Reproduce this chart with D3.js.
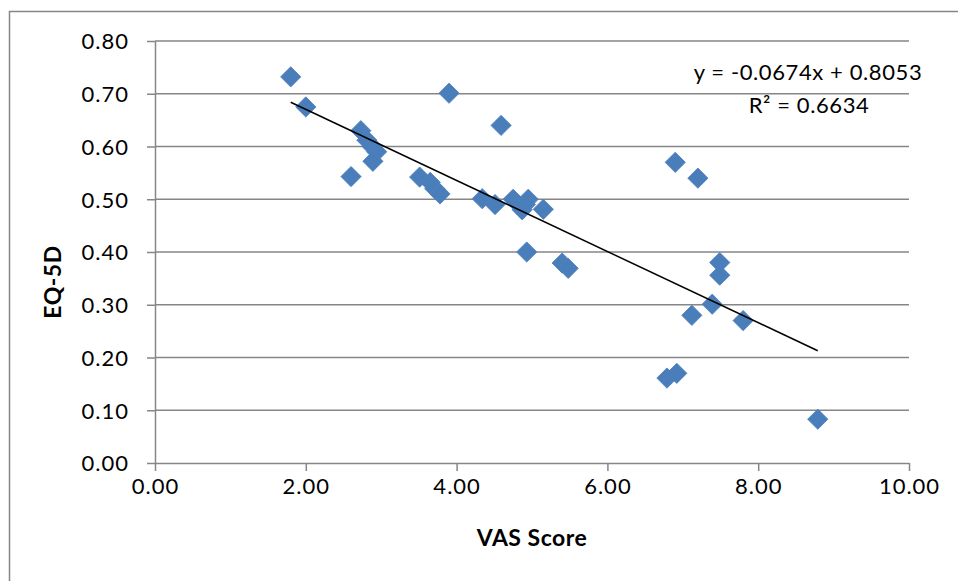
<!DOCTYPE html>
<html>
<head>
<meta charset="utf-8">
<script src="https://cdn.jsdelivr.net/npm/d3@7"></script>
<style>
  html, body { margin: 0; padding: 0; background: #fff; }
  svg { display: block; }
  text { font-family: Lato, "Open Sans", sans-serif; fill: #000; }
</style>
</head>
<body>
<svg id="chart" width="958" height="581"></svg>
<script>
// ---- data ----
const vasScore = [1.80, 2.00, 2.60, 2.73, 2.81, 2.88, 2.94, 2.89, 3.90, 4.59,
                  3.51, 3.65, 3.71, 3.78, 4.34, 4.51, 4.75, 4.87, 4.91, 4.95,
                  5.15, 4.93, 5.40, 5.48, 6.90, 7.20, 7.49, 7.49, 7.39, 7.12,
                  7.80, 6.79, 6.92, 8.79];
const eq5d     = [0.732, 0.675, 0.543, 0.630, 0.612, 0.600, 0.590, 0.572, 0.701, 0.640,
                  0.542, 0.532, 0.520, 0.510, 0.501, 0.490, 0.500, 0.480, 0.490, 0.500,
                  0.481, 0.400, 0.379, 0.369, 0.570, 0.540, 0.380, 0.356, 0.301, 0.280,
                  0.270, 0.161, 0.170, 0.083];
const xTicks = [0, 2, 4, 6, 8, 10];
const yTicks = [0, 0.1, 0.2, 0.3, 0.4, 0.5, 0.6, 0.7, 0.8];
const trendSlope = -0.0674;
const trendIntercept = 0.8053;
const equationLabel = "y = -0.0674x + 0.8053";
const rSquaredLabel = "R² = 0.6634";
const xTitle = "VAS Score";
const yTitle = "EQ-5D";

// ---- layout ----
const svg = d3.select("#chart");
const pLeft = 155, pRight = 909, pTop = 41, pBottom = 463;
const x = d3.scaleLinear().domain([0, 10]).range([pLeft, pRight]);
const y = d3.scaleLinear().domain([0, 0.8]).range([pBottom, pTop]);
const grey = "#868686";

// chart border (extends past right/bottom edges)
svg.append("rect").attr("x", 9.5).attr("y", 11.5).attr("width", 1000).attr("height", 1000)
  .attr("fill", "none").attr("stroke", grey).attr("stroke-width", 1.5);

// gridlines
svg.append("g").selectAll("line").data(yTicks.filter(d => d > 0)).join("line")
  .attr("x1", pLeft).attr("x2", pRight)
  .attr("y1", d => y(d)).attr("y2", d => y(d))
  .attr("stroke", grey).attr("stroke-width", 1.5);

// y axis
const yAxis = svg.append("g").attr("transform", `translate(${pLeft},0)`)
  .call(d3.axisLeft(y).tickValues(yTicks).tickFormat(d3.format(".2f")).tickSizeInner(8).tickSizeOuter(0).tickPadding(10));
// x axis
const xAxis = svg.append("g").attr("transform", `translate(0,${pBottom})`)
  .call(d3.axisBottom(x).tickValues(xTicks).tickFormat(d3.format(".2f")).tickSizeInner(8).tickSizeOuter(0).tickPadding(10));
[yAxis, xAxis].forEach(a => {
  a.selectAll("path, line").attr("stroke", grey).attr("stroke-width", 1.5);
  a.selectAll("text").style("font-size", "22px").style("letter-spacing", "1px")
    .style("font-family", "Lato, sans-serif").attr("fill", "#000");
});
yAxis.selectAll("text").attr("x", -26).attr("dy", "0.36em");
xAxis.selectAll("text").attr("y", 14).attr("dy", "0.78em");

// points
const pts = vasScore.map((v, i) => ({ x: v, y: eq5d[i] }));
svg.append("g").selectAll("path").data(pts).join("path")
  .attr("d", d3.symbol().type(d3.symbolSquare).size(205))
  .attr("transform", d => `translate(${x(d.x)},${y(d.y)}) rotate(45)`)
  .attr("fill", "#4a7ebb").attr("stroke", "#4f81bd").attr("stroke-width", 0.8);

// trendline
const [xmin, xmax] = d3.extent(vasScore);
svg.append("line")
  .attr("x1", x(xmin)).attr("y1", y(trendSlope * xmin + trendIntercept))
  .attr("x2", x(xmax)).attr("y2", y(trendSlope * xmax + trendIntercept))
  .attr("stroke", "#000").attr("stroke-width", 1.5);

// equation labels
svg.append("text").attr("x", 808).attr("y", 80).attr("text-anchor", "middle")
  .style("font-size", "22px").style("letter-spacing", "0.6px").text(equationLabel);
svg.append("text").attr("x", 809).attr("y", 113).attr("text-anchor", "middle")
  .style("font-size", "22px").style("letter-spacing", "0.6px").text(rSquaredLabel);

// axis titles
svg.append("text").attr("x", 532).attr("y", 546).attr("text-anchor", "middle")
  .style("font-size", "23px").style("font-weight", "bold").style("letter-spacing", "0.5px").text(xTitle);
svg.append("text").attr("transform", "translate(61,282) rotate(-90)").attr("text-anchor", "middle")
  .style("font-size", "23px").style("font-weight", "bold").style("letter-spacing", "0.5px").text(yTitle);
</script>
</body>
</html>
